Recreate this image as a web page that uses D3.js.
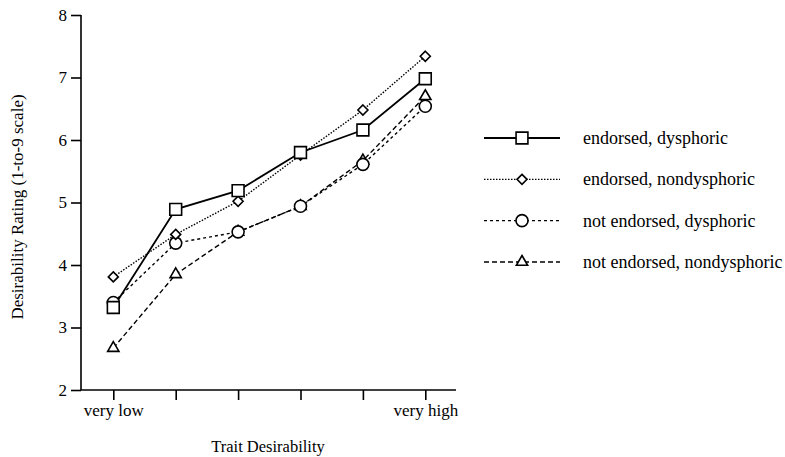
<!DOCTYPE html>
<html>
<head>
<meta charset="utf-8">
<script src="https://cdn.jsdelivr.net/npm/d3@7"></script>
<style>
  body { margin: 0; background: #fff; }
  svg text { font-family: "Liberation Serif", "Times New Roman", serif; fill: #000; }
</style>
</head>
<body>
<div id="chart"></div>
<script>
// Data
const levels = [1, 2, 3, 4, 5, 6];
const xTickLabels = ["very low", "", "", "", "", "very high"];
const yTicks = [2, 3, 4, 5, 6, 7, 8];

const endorsedDysphoric = [3.32, 4.89, 5.19, 5.80, 6.16, 6.98];
const endorsedNondysphoric = [3.81, 4.49, 5.02, 5.76, 6.48, 7.34];
const notEndorsedDysphoric = [3.40, 4.35, 4.53, 4.94, 5.61, 6.54];
const notEndorsedNondysphoric = [2.67, 3.85, 4.53, 4.94, 5.67, 6.70];

const seriesNames = ["endorsed, dysphoric", "endorsed, nondysphoric",
  "not endorsed, dysphoric", "not endorsed, nondysphoric"];

// diamond = square turned 45 degrees
const squareDiamond = {
  draw(context, size) {
    const r = Math.sqrt(size) / Math.SQRT2;
    context.moveTo(0, -r);
    context.lineTo(r, 0);
    context.lineTo(0, r);
    context.lineTo(-r, 0);
    context.closePath();
  }
};

const series = [
  { name: seriesNames[0], values: endorsedDysphoric, dash: null, symbol: d3.symbolSquare, size: 140 },
  { name: seriesNames[1], values: endorsedNondysphoric, dash: "1.5,1.5", symbol: squareDiamond, size: 50 },
  { name: seriesNames[2], values: notEndorsedDysphoric, dash: "3,3", symbol: d3.symbolCircle, size: 113 },
  { name: seriesNames[3], values: notEndorsedNondysphoric, dash: "5,3", symbol: d3.symbolTriangle, size: 55 }
];

const width = 785;
const height = 457;

const svg = d3.select("#chart")
  .append("svg")
  .attr("width", width)
  .attr("height", height);

const x = d3.scaleLinear()
  .domain([1, 6])
  .range([113.3, 425.3]);

const y = d3.scaleLinear()
  .domain([2, 8])
  .range([390, 15]);

// Y axis
const yAxis = svg.append("g")
  .attr("transform", "translate(81,0)")
  .call(d3.axisLeft(y).tickValues(yTicks).tickSize(10).tickPadding(4).tickFormat(d3.format("d")));
yAxis.select(".domain").attr("d", `M0,${y(8)}V${y(2)}`);

// X axis
const xAxis = svg.append("g")
  .attr("transform", `translate(0,${y(2)})`)
  .call(d3.axisBottom(x).tickValues(levels).tickSize(10).tickPadding(4)
    .tickFormat((d, i) => xTickLabels[i]));
xAxis.select(".domain").attr("d", "M81,0H456");

svg.selectAll(".domain, .tick line").attr("stroke", "#000").attr("stroke-width", 1.6);
svg.selectAll(".tick text").style("font-size", "17px");

// Axis titles
svg.append("text")
  .attr("transform", "translate(23,207) rotate(-90)")
  .attr("text-anchor", "middle")
  .style("font-size", "17px")
  .text("Desirability Rating (1-to-9 scale)");

svg.append("text")
  .attr("x", 268)
  .attr("y", 452)
  .attr("text-anchor", "middle")
  .style("font-size", "16.5px")
  .text("Trait Desirability");

const line = d3.line()
  .x((d, i) => x(levels[i]))
  .y(d => y(d));

// Lines (drawn back to front)
const order = [3, 2, 1, 0];
order.forEach(k => {
  const s = series[k];
  svg.append("path")
    .datum(s.values)
    .attr("fill", "none")
    .attr("stroke", "#000")
    .attr("stroke-width", s.dash ? 1.4 : 1.8)
    .attr("stroke-dasharray", s.dash)
    .attr("d", line);
});

order.forEach(k => {
  const s = series[k];
  svg.selectAll(null)
    .data(s.values)
    .enter()
    .append("path")
    .attr("transform", (d, i) => `translate(${x(levels[i])},${y(d)})`)
    .attr("d", d3.symbol().type(s.symbol).size(s.size))
    .attr("fill", "#fff")
    .attr("stroke", "#000")
    .attr("stroke-width", 1.6);
});

// Legend
const legend = svg.append("g");
const legendY = d3.scalePoint().domain(seriesNames).range([138, 262]);

series.forEach(s => {
  const g = legend.append("g").attr("transform", `translate(0,${legendY(s.name)})`);
  g.append("line")
    .attr("x1", 484).attr("x2", 560)
    .attr("stroke", "#000")
    .attr("stroke-width", s.dash ? 1.4 : 1.8)
    .attr("stroke-dasharray", s.dash);
  g.append("path")
    .attr("transform", "translate(522,0)")
    .attr("d", d3.symbol().type(s.symbol).size(s.size))
    .attr("fill", "#fff")
    .attr("stroke", "#000")
    .attr("stroke-width", 1.6);
  g.append("text")
    .attr("x", 583)
    .attr("y", 6)
    .style("font-size", "18px")
    .text(s.name);
});
</script>
</body>
</html>
